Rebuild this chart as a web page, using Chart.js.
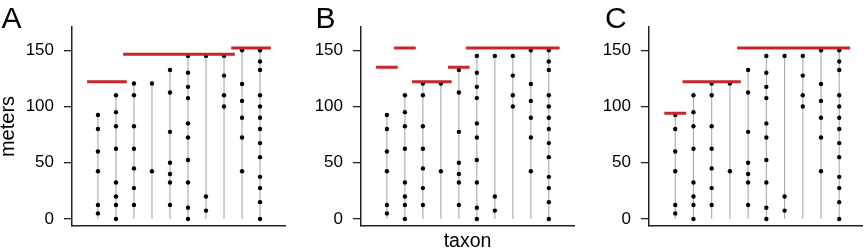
<!DOCTYPE html>
<html>
<head>
<meta charset="utf-8">
<script src="https://cdn.jsdelivr.net/npm/chart.js@4.4.1/dist/chart.umd.min.js"></script>
<style>
  html, body { margin: 0; padding: 0; background: #fff; }
  #figure { position: relative; width: 867px; height: 250px; overflow: hidden; }
  .panel { position: absolute; top: 0; }
  .letter {
    position: absolute; top: 3px;
    font-family: "Liberation Sans", Arial, Helvetica, sans-serif;
    font-size: 30px; line-height: 30px; color: #000;
  }
</style>
</head>
<body>
<div id="figure">
  <canvas id="chartA" class="panel" width="289" height="250" style="left:0px"></canvas>
  <canvas id="chartB" class="panel" width="289" height="250" style="left:289px"></canvas>
  <canvas id="chartC" class="panel" width="290" height="250" style="left:577px"></canvas>
  <div class="letter" style="left:1.5px">A</div>
  <div class="letter" style="left:315.5px">B</div>
  <div class="letter" style="left:605px">C</div>
</div>
<script>
// taxa along the x axis, and the levels (meters) each one was found at
const taxa = [1, 2, 3, 4, 5, 6, 7, 8, 9, 10]
const occurrences = [
  [92.5, 80, 60, 42.5, 12.5, 5],
  [110, 95, 82.5, 62.5, 32.5, 20, 12.5, 0],
  [120.5, 110, 82.5, 62.5, 45, 27.5, 12.5],
  [120.5, 42.5],
  [132.5, 112.5, 77.5, 50, 40, 32.5, 12.5],
  [145, 130, 117.5, 107.5, 85, 72.5, 52.5, 32.5, 10, 0],
  [145, 20, 7.5],
  [145, 127.5, 110, 100],
  [150, 120, 105, 90, 72.5, 42.5],
  [150, 140, 132.5, 110, 100, 90, 80, 67.5, 55, 37.5, 27.5, 15, 0]
]
const yTicks = [0, 50, 100, 150]

// estimated extinction levels: [first taxon, last taxon, meters]
const extinctionA = [[1, 2, 122], [3, 8, 146.5], [9, 10, 152]]
const extinctionB = [[1, 1, 135], [2, 2, 152], [3, 4, 122], [5, 5, 135], [6, 10, 152]]
const extinctionC = [[1, 1, 94], [2, 4, 122], [5, 10, 152]]

const FONT = "'Liberation Sans', Arial, Helvetica, sans-serif"
const RED = '#c8252d'

function rangeLinePoints() {
  const pts = []
  occurrences.forEach((levels, i) => {
    pts.push({ x: taxa[i], y: 0 }, { x: taxa[i], y: Math.max(...levels) }, { x: taxa[i], y: null })
  })
  return pts
}

function occurrencePoints() {
  const pts = []
  occurrences.forEach((levels, i) => {
    levels.forEach(level => pts.push({ x: taxa[i], y: level }))
  })
  return pts
}

function extinctionPoints(segments) {
  const half = 0.6
  const pts = []
  segments.forEach(([first, last, level]) => {
    pts.push({ x: first - half, y: level }, { x: last + half, y: level }, { x: last + half, y: null })
  })
  return pts
}

function buildPanel(canvasId, segments, opts) {
  const ctx = document.getElementById(canvasId).getContext('2d')
  return new Chart(ctx, {
    type: 'scatter',
    data: {
      datasets: [
        {
          data: extinctionPoints(segments),
          showLine: true,
          borderColor: RED,
          borderWidth: 3,
          pointRadius: 0,
          spanGaps: false,
          order: 0
        },
        {
          data: occurrencePoints(),
          backgroundColor: '#000',
          borderWidth: 0,
          pointRadius: 2.2,
          order: 1
        },
        {
          data: rangeLinePoints(),
          showLine: true,
          borderColor: '#aaaaaa',
          borderWidth: 1.1,
          pointRadius: 0,
          spanGaps: false,
          order: 2
        }
      ]
    },
    options: {
      responsive: false,
      animation: false,
      events: [],
      layout: { padding: { top: 27, bottom: 0, left: 0, right: opts.padRight } },
      plugins: { legend: { display: false }, tooltip: { enabled: false } },
      scales: {
        x: {
          type: 'linear',
          min: -0.44,
          max: opts.xMax,
          ticks: { display: false },
          grid: { display: false },
          border: { display: true, color: '#222', width: 1.5 },
          title: {
            display: !!opts.xTitle,
            text: opts.xTitle || '',
            color: '#000',
            font: { family: FONT, size: 19.5, lineHeight: '16px' },
            padding: { top: 0, bottom: 0 }
          },
          afterFit: scale => { scale.height = 24 }
        },
        y: {
          min: -6.2,
          max: 170.7,
          afterBuildTicks: scale => { scale.ticks = yTicks.map(v => ({ value: v })) },
          ticks: { color: '#000', padding: 10, font: { family: FONT, size: 17 } },
          grid: { display: true, drawOnChartArea: false, drawTicks: true, tickLength: 8, color: '#222', lineWidth: 1.3 },
          border: { display: true, color: '#222', width: 1.5 },
          title: {
            display: !!opts.yTitle,
            text: opts.yTitle || '',
            color: '#000',
            font: { family: FONT, size: 20, lineHeight: '17px' },
            padding: { top: 0, bottom: 0 }
          },
          afterFit: scale => { scale.width = 72 }
        }
      }
    }
  })
}

buildPanel('chartA', extinctionA, { padRight: 1, xMax: 11.385, yTitle: 'meters' })
buildPanel('chartB', extinctionB, { padRight: 0, xMax: 11.4, xTitle: 'taxon' })
buildPanel('chartC', extinctionC, { padRight: 5, xMax: 11.25 })
</script>
</body>
</html>
